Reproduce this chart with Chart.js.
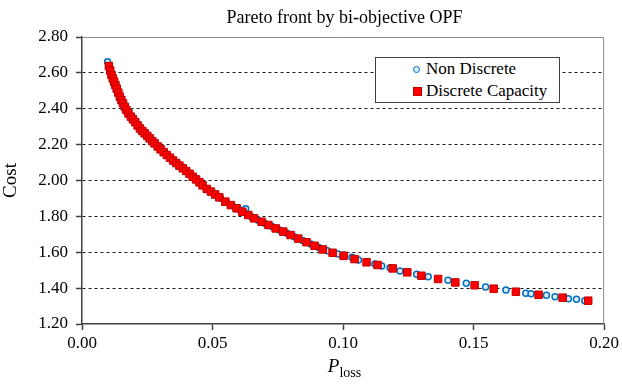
<!DOCTYPE html>
<html>
<head>
<meta charset="utf-8">
<script src="https://cdn.jsdelivr.net/npm/chart.js@4.4.1/dist/chart.umd.min.js"></script>
<style>
    body { margin: 0; background: #fff; }
    #wrap { position: relative; width: 622px; height: 384px; font-family: "Liberation Serif", "Times New Roman", serif; color: #000; }
    #titulo { position: absolute; left: 82px; width: 525px; top: 6px; line-height: 22px; text-align: center; font-size: 18px; }
    #legenda { position: absolute; left: 375px; top: 57px; width: 183px; height: 44px; border: 1.5px solid #404040; background: #fff; font-size: 17px; }
    .item { position: absolute; left: 0; height: 20px; line-height: 20px; white-space: nowrap; }
    .item span.txt { position: absolute; left: 50px; top: 0; }
    .circ { position: absolute; left: 37px; top: 7px; width: 5px; height: 5px; border: 1.5px solid #0070c0; border-radius: 50%; background: #d9eef8; }
    .quad { position: absolute; left: 37px; top: 6px; width: 7px; height: 7px; border: 1px solid #c00000; background: #ff0000; }
    #xtitulo { position: absolute; left: 82px; width: 525px; top: 355px; text-align: center; font-size: 19px; }
    #xtitulo sub { font-size: 14px; }
</style>
</head>
<body>
<div id="wrap">
    <canvas id="grafico" width="622" height="384"></canvas>
    <div id="titulo">Pareto front by bi-objective OPF</div>
    <div id="legenda">
        <div class="item" style="top:1px"><div class="circ"></div><span class="txt">Non Discrete</span></div>
        <div class="item" style="top:23px"><div class="quad"></div><span class="txt">Discrete Capacity</span></div>
    </div>
    <div id="xtitulo"><i>P</i><sub>loss</sub></div>
</div>
<script>
// Pareto front
const perdaDiscreto = [
    0.0103, 0.0108, 0.0113, 0.0118, 0.0123, 0.0128, 0.0133, 0.0139, 0.0145, 0.0151,
    0.0157, 0.0164, 0.0170, 0.0178, 0.0187, 0.0195, 0.0204, 0.0213, 0.0222, 0.0231,
    0.0240, 0.0250, 0.0259, 0.0269, 0.0278, 0.0290, 0.0301, 0.0313, 0.0325, 0.0337,
    0.0349, 0.0361, 0.0373, 0.0386, 0.0399, 0.0412, 0.0424, 0.0437, 0.0450, 0.0462,
    0.0478, 0.0494, 0.0510, 0.0526, 0.0549, 0.0570, 0.0592, 0.0614, 0.0637, 0.0659,
    0.0688, 0.0714, 0.0742, 0.0771, 0.0799, 0.0828, 0.0860, 0.0891, 0.0922, 0.0960,
    0.1002, 0.1044, 0.1090, 0.1132, 0.1190, 0.1246, 0.1300, 0.1364, 0.1430, 0.1504,
    0.1577, 0.1662, 0.1749, 0.1841, 0.1939
];
const custoDiscreto = [
    2.638, 2.613, 2.588, 2.569, 2.551, 2.532, 2.512, 2.490, 2.467, 2.448,
    2.430, 2.411, 2.393, 2.374, 2.356, 2.341, 2.325, 2.307, 2.290, 2.276,
    2.263, 2.249, 2.235, 2.220, 2.207, 2.190, 2.174, 2.158, 2.142, 2.127,
    2.111, 2.097, 2.083, 2.068, 2.053, 2.037, 2.021, 2.006, 1.990, 1.973,
    1.953, 1.938, 1.922, 1.906, 1.882, 1.863, 1.845, 1.826, 1.808, 1.789,
    1.770, 1.752, 1.733, 1.715, 1.696, 1.676, 1.656, 1.636, 1.616, 1.597,
    1.580, 1.562, 1.544, 1.529, 1.510, 1.488, 1.469, 1.451, 1.432, 1.416,
    1.397, 1.380, 1.363, 1.347, 1.330
];

const perdaContinuo = [
    0.0098, 0.0103, 0.0109, 0.0115, 0.0121, 0.0127, 0.0134, 0.0141, 0.0148, 0.0155,
    0.0162, 0.0169, 0.0177, 0.0185, 0.0194, 0.0203, 0.0212, 0.0221, 0.0232, 0.0244,
    0.0256, 0.0268, 0.0281, 0.0294, 0.0307, 0.0320, 0.0333, 0.0346, 0.0359, 0.0372,
    0.0386, 0.0400, 0.0415, 0.0430, 0.0445, 0.0460, 0.0476, 0.0492, 0.0509, 0.0530,
    0.0552, 0.0575, 0.0600, 0.0627, 0.0650, 0.0675, 0.0700, 0.0728, 0.0756, 0.0785,
    0.0813, 0.0845, 0.0876, 0.0907, 0.0940, 0.0980, 0.1002, 0.1034, 0.1059, 0.1090,
    0.1122, 0.1148, 0.1180, 0.1218, 0.1282, 0.1326, 0.1402, 0.1472, 0.1546, 0.1624,
    0.1700, 0.1720, 0.1779, 0.1812, 0.1863, 0.1894, 0.1926
];
const custoContinuo = [
    2.662, 2.632, 2.604, 2.580, 2.558, 2.537, 2.508, 2.482, 2.460, 2.440,
    2.418, 2.398, 2.378, 2.361, 2.343, 2.327, 2.309, 2.292, 2.275, 2.257,
    2.240, 2.222, 2.203, 2.185, 2.166, 2.149, 2.133, 2.115, 2.100, 2.084,
    2.068, 2.051, 2.033, 2.015, 1.996, 1.977, 1.955, 1.940, 1.923, 1.902,
    1.880, 1.860, 1.840, 1.842, 1.797, 1.778, 1.761, 1.743, 1.724, 1.706,
    1.686, 1.666, 1.646, 1.627, 1.608, 1.590, 1.585, 1.572, 1.557, 1.546,
    1.534, 1.523, 1.514, 1.495, 1.477, 1.464, 1.444, 1.427, 1.406, 1.390,
    1.371, 1.369, 1.360, 1.352, 1.341, 1.338, 1.330
];

const fonte = "'Liberation Serif', 'Times New Roman', serif";

function montarPontos(xs, ys) {
    return xs.map((x, i) => ({ x: x, y: ys[i] }));
}

// borda cinza em cima e a direita da area do grafico
const bordaArea = {
    id: "bordaArea",
    beforeDatasetsDraw(chart) {
        const a = chart.chartArea;
        const ctx = chart.ctx;
        ctx.save();
        ctx.strokeStyle = "#8c8c8c";
        ctx.lineWidth = 1;
        ctx.beginPath();
        ctx.moveTo(a.left, a.top + 0.5);
        ctx.lineTo(a.right - 0.5, a.top + 0.5);
        ctx.lineTo(a.right - 0.5, a.bottom);
        ctx.stroke();
        ctx.restore();
    }
};

const ctx = document.getElementById("grafico").getContext("2d");

new Chart(ctx, {
    type: "scatter",
    data: {
        datasets: [
            {
                label: "Discrete Capacity",
                data: montarPontos(perdaDiscreto, custoDiscreto),
                pointStyle: "rect",
                pointRadius: 5.3,
                backgroundColor: "#ff0000",
                borderColor: "#c00000",
                borderWidth: 1
            },
            {
                label: "Non Discrete",
                data: montarPontos(perdaContinuo, custoContinuo),
                pointStyle: "circle",
                pointRadius: 3,
                backgroundColor: "#d9eef8",
                borderColor: "#0070c0",
                borderWidth: 1.5
            }
        ]
    },
    options: {
        responsive: false,
        animation: false,
        layout: { padding: { left: 0, right: 15, top: 37, bottom: 0 } },
        plugins: {
            legend: { display: false },
            tooltip: { enabled: false },
            title: { display: false }
        },
        scales: {
            x: {
                type: "linear",
                min: 0,
                max: 0.2,
                ticks: {
                    stepSize: 0.05,
                    color: "#000",
                    font: { family: fonte, size: 17 },
                    padding: 3,
                    callback: v => v.toFixed(2)
                },
                grid: { drawOnChartArea: false, tickLength: 6, tickColor: "#404040", tickWidth: 1.5 },
                border: { color: "#404040", width: 1.5 },
                afterFit: s => { s.height = 60; }
            },
            y: {
                min: 1.2,
                max: 2.8,
                ticks: {
                    stepSize: 0.2,
                    color: "#000",
                    font: { family: fonte, size: 17 },
                    padding: 8,
                    callback: v => v.toFixed(2)
                },
                grid: {
                    color: c => (Math.abs(c.tick.value - 1.2) < 1e-6 || Math.abs(c.tick.value - 2.8) < 1e-6) ? "rgba(0,0,0,0)" : "#1a1a1a",
                    lineWidth: 1,
                    tickBorderDash: [],
                    tickLength: 6,
                    tickColor: "#404040",
                    tickWidth: 1.5
                },
                border: { color: "#404040", width: 1.5, dash: [3, 3] },
                title: {
                    display: true,
                    text: "Cost",
                    color: "#000",
                    font: { family: fonte, size: 19 },
                    padding: { top: 0, bottom: 0 }
                },
                afterFit: s => { s.width = 82; }
            }
        }
    },
    plugins: [bordaArea]
});
</script>
</body>
</html>
